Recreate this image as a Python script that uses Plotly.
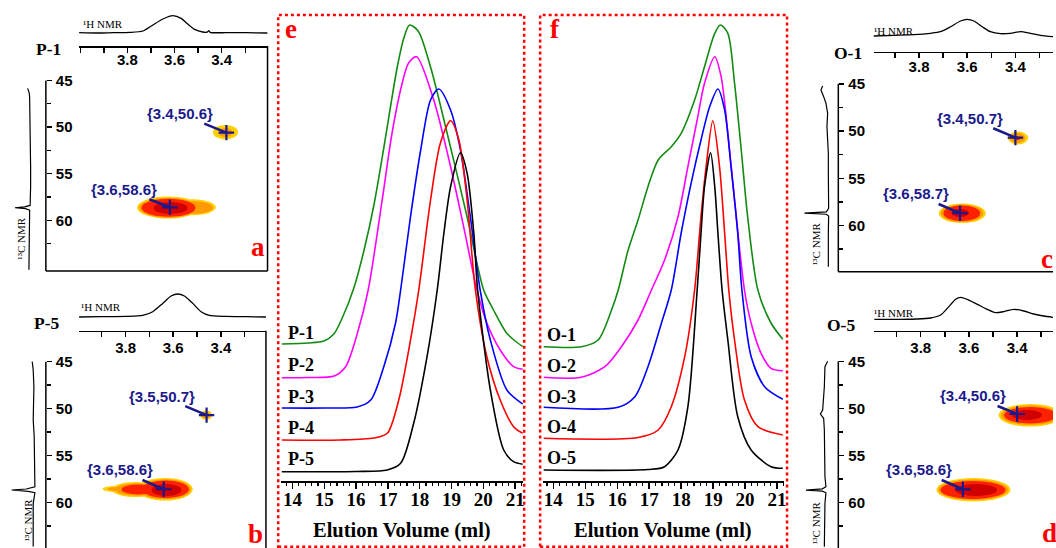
import plotly.graph_objects as go

W, H = 1056, 548
SERIF = "Liberation Serif"
SANS = "Liberation Sans"
NAVY = "#1a1a8c"
SPOT_COLORS = ["#FFD000", "#FF9A00", "#FF2200", "#D00000"]
GPC_COLORS = ["#138a13", "#ff00ff", "#0000ff", "#ff0000", "#000000"]

# ================= GPC data (elution volume, ml  /  detector signal, a.u.) =================
P_names = ["P-1", "P-2", "P-3", "P-4", "P-5"]
P1_vol = [13.66, 14.5, 14.99, 15.3, 15.55, 15.93, 16.25, 16.56, 16.87, 17.1, 17.3, 17.5, 17.68, 17.95, 18.34, 18.86, 19.49, 20.01, 20.32, 20.73, 21.0, 21.24]
P1_sig = [137, 138, 140, 147, 162, 193, 231, 276, 333, 378, 415, 443, 456, 450, 414, 348, 264, 191, 171, 148, 140, 134.3]
P2_vol = [13.66, 14.5, 15.31, 15.67, 16.04, 16.38, 16.82, 17.13, 17.45, 17.65, 17.9, 18.44, 18.97, 19.38, 19.8, 20.11, 20.53, 20.95, 21.24]
P2_sig = [103.3, 103.5, 105, 114.3, 147.7, 191, 281, 348, 398, 418, 424.3, 381, 314.3, 254.3, 191, 158, 131, 114.3, 111.7]
P3_vol = [13.66, 15.0, 16.03, 16.46, 16.87, 17.24, 17.4, 17.71, 18.03, 18.34, 18.6, 18.97, 19.28, 19.59, 19.9, 20.22, 20.74, 21.24]
P3_sig = [73, 73, 74, 81, 114.3, 158, 191, 264.3, 331, 381, 392, 371, 331, 264.3, 191, 141, 91, 77]
P4_vol = [13.66, 15.5, 16.56, 16.98, 17.34, 17.71, 17.97, 18.34, 18.65, 18.97, 19.23, 19.49, 19.75, 20.11, 20.53, 20.95, 21.24]
P4_sig = [41, 41, 43, 47.7, 81, 141, 191, 281, 338, 360.3, 341, 281, 191, 124.3, 81, 54.3, 47.7]
P5_vol = [13.66, 16.0, 16.98, 17.4, 17.81, 18.23, 18.55, 18.76, 18.97, 19.28, 19.49, 19.7, 19.82, 20.22, 20.64, 20.95, 21.24]
P5_sig = [9.3, 9.5, 11, 17.7, 57.7, 124.3, 191, 248, 294.3, 328.3, 307.7, 248, 191, 91, 31, 19.3, 16.7]
P_label_vol = 13.79
P_label_sig = [147.7, 116, 84.3, 52.7, 21.7]

O_names = ["O-1", "O-2", "O-3", "O-4", "O-5"]
O1_vol = [13.69, 14.88, 15.4, 15.82, 16.03, 16.34, 16.65, 16.96, 17.28, 17.69, 18.0, 18.42, 18.73, 19.05, 19.23, 19.46, 19.67, 19.88, 20.08, 20.4, 20.81, 21.18]
O1_sig = [134.3, 134.3, 141, 171, 191, 231, 261, 294.3, 321, 334.3, 347.7, 381, 414.3, 447.7, 456, 447.7, 397.7, 331, 264.3, 191, 158, 141.7]
O2_vol = [13.69, 14.87, 15.61, 16.13, 16.65, 17.07, 17.48, 17.9, 18.21, 18.52, 18.73, 19.05, 19.25, 19.46, 19.67, 19.98, 20.19, 20.5, 20.81, 21.18]
O2_sig = [103.7, 103.7, 114.3, 134.3, 161, 191, 221, 264.3, 314.3, 364.3, 397.7, 424.3, 404.3, 347.7, 281, 191, 157.7, 127.7, 112.7, 110.3]
O3_vol = [13.69, 16.03, 16.55, 16.96, 17.38, 17.69, 18.0, 18.31, 18.62, 18.89, 19.15, 19.36, 19.56, 19.77, 19.9, 20.19, 20.61, 21.18]
O3_sig = [73.7, 73.7, 84.3, 114.3, 157.7, 191, 248, 297.7, 341, 374.3, 392, 371, 314.3, 247.7, 191, 124.3, 94.3, 81.7]
O4_vol = [13.69, 16.65, 17.28, 17.69, 18.11, 18.42, 18.62, 18.78, 18.99, 19.2, 19.36, 19.49, 19.67, 19.98, 20.4, 21.18]
O4_sig = [42.7, 43.5, 51, 74.3, 124.3, 191, 264.3, 314.3, 360.3, 314.3, 247.7, 191, 141, 81, 54.3, 46]
O5_vol = [13.69, 16.96, 17.48, 17.9, 18.21, 18.5, 18.62, 18.73, 18.92, 19.05, 19.15, 19.28, 19.46, 19.77, 20.19, 20.81, 21.18]
O5_sig = [11, 11.5, 14.3, 31, 74.3, 191, 247.7, 294.3, 328.3, 294.3, 247.7, 191, 141, 64.3, 31, 14.3, 12.7]
O_label_vol = 13.74
O_label_sig = [146, 115, 84.3, 54.3, 22.7]

GPC_ticks = [14, 15, 16, 17, 18, 19, 20, 21]
GPC_title = "Elution Volume (ml)"

# ================= 2D NMR data =================
H_ticks = [3.8, 3.6, 3.4]
C_ticks = [45, 50, 55, 60]
C_minor = [47.5, 52.5, 57.5, 62.5]

# panel a (P-1)
a_h1_ppm = [4.005, 3.931, 3.861, 3.790, 3.734, 3.692, 3.649, 3.607, 3.572, 3.544, 3.515, 3.480, 3.462, 3.455, 3.449, 3.381, 3.297, 3.205]
a_h1_int = [0, -0.3, 0, 0.3, 1.7, 7.7, 13.7, 17, 14.3, 8.7, 3.3, 0.7, 0.6, 2.0, 0.4, 0, 0, -0.3]
a_c13_ppm = [45.85, 46.3, 46.75, 48.2, 49.5, 50.7, 52.5, 54.3, 56.4, 57.8, 58.4, 58.55, 58.65, 58.75, 58.9, 59.1, 61.4, 65.3]
a_c13_int = [3.0, 1.5, 1.0, 0.7, 0.3, 0.0, -0.3, 0.0, 0.0, 0.0, 0.5, 6, 15.7, 5, 1.0, 1.0, 1.3, 1.7]
a_peak_H = [3.38, 3.62]
a_peak_C = [50.6, 58.6]
a_peak_txt = ["{3.4,50.6}", "{3.6,58.6}"]
# contour levels: level index, H from, H to, C from, C to
a_spot_lvl = [0, 0, 1, 1, 2, 3, 0, 1]
a_spot_H0 = [3.759, 3.620, 3.750, 3.600, 3.740, 3.689, 3.437, 3.414]
a_spot_H1 = [3.494, 3.425, 3.503, 3.437, 3.511, 3.545, 3.331, 3.355]
a_spot_C0 = [57.44, 57.75, 57.58, 57.95, 57.69, 58.03, 49.78, 50.10]
a_spot_C1 = [59.80, 59.45, 59.71, 59.30, 59.62, 59.32, 51.33, 51.07]

# panel b (P-5)
b_h1_ppm = [3.995, 3.909, 3.797, 3.728, 3.686, 3.644, 3.609, 3.581, 3.553, 3.518, 3.483, 3.449, 3.379, 3.295, 3.211]
b_h1_int = [-0.3, 0, 0.3, 1.3, 5, 13.3, 20.7, 22.7, 20.7, 13.3, 5, 1.3, 0.3, 0, -0.3]
b_c13_ppm = [45.0, 45.88, 47.67, 49.43, 51.22, 53.0, 55.13, 57.26, 58.33, 58.57, 58.68, 58.82, 58.96, 60.1, 64.7]
b_c13_int = [2, 1, 0.3, 1, 1, 0, 0, 0, -0.7, 8, 22.6, 6, -0.7, 1, 1]
b_peak_H = [3.46, 3.64]
b_peak_C = [50.7, 58.6]
b_peak_txt = ["{3.5,50.7}", "{3.6,58.6}"]
b_spot_lvl = [0, 0, 0, 1, 1, 1, 2, 2, 3, 0, 1]
b_spot_H0 = [3.750, 3.859, 3.896, 3.739, 3.842, 3.875, 3.729, 3.817, 3.691, 3.487, 3.478]
b_spot_H1 = [3.518, 3.658, 3.783, 3.526, 3.666, 3.783, 3.534, 3.674, 3.566, 3.437, 3.445]
b_spot_C0 = [57.40, 57.83, 58.25, 57.54, 57.96, 58.36, 57.67, 58.09, 58.04, 50.20, 50.34]
b_spot_C1 = [59.80, 59.42, 58.89, 59.67, 59.29, 58.78, 59.53, 59.16, 59.32, 51.20, 51.06]

# panel c (O-1)
c_h1_ppm = [3.989, 3.904, 3.821, 3.752, 3.711, 3.669, 3.628, 3.600, 3.572, 3.538, 3.504, 3.462, 3.421, 3.379, 3.338, 3.296, 3.244]
c_h1_int = [0, 0.7, 1.3, 2.7, 4.3, 9.3, 15, 16.7, 15, 9.3, 4.3, 2.3, 2.7, 4.3, 2.7, 0.7, -0.7]
c_c13_ppm = [45.23, 45.66, 46.36, 47.06, 48.12, 49.53, 50.95, 52.35, 54.47, 56.59, 58.17, 58.55, 58.68, 58.8, 58.99, 60.82, 64.35]
c_c13_int = [5.7, 7.4, 4.7, 2.4, 0.7, 1.4, 0.7, 0, 0, 0, -0.3, 2, 24, 2, -0.3, 0, 0]
c_peak_H = [3.40, 3.63]
c_peak_C = [50.7, 58.7]
c_peak_txt = ["{3.4,50.7}", "{3.6,58.7}"]
c_spot_lvl = [0, 1, 2, 3, 0, 1, 2]
c_spot_H0 = [3.718, 3.710, 3.699, 3.666, 3.432, 3.422, 3.405]
c_spot_H1 = [3.523, 3.534, 3.546, 3.592, 3.347, 3.360, 3.380]
c_spot_C0 = [57.67, 57.77, 57.88, 58.25, 50.05, 50.21, 50.55]
c_spot_C1 = [59.73, 59.62, 59.52, 59.10, 51.42, 51.26, 50.95]

# panel d (O-5)
d_h1_ppm = [3.993, 3.896, 3.814, 3.759, 3.717, 3.683, 3.655, 3.635, 3.607, 3.565, 3.524, 3.490, 3.455, 3.414, 3.372, 3.331, 3.290, 3.251]
d_h1_int = [0, 0, 0.3, 1.3, 4.3, 12.7, 20, 22, 20, 15, 10, 6.7, 7.7, 10, 8.3, 5.3, 3.3, 2]
d_c13_ppm = [45.0, 45.57, 47.7, 49.46, 50.18, 50.6, 51.06, 52.3, 54.78, 57.27, 58.33, 58.55, 58.68, 58.8, 58.97, 60.09, 64.7]
d_c13_int = [-3.3, -0.6, 0, 0.7, 1.7, 4.0, 0.7, 0, 0, -0.6, -1.6, 2, 18.4, 2, -1.6, -0.6, 0]
d_peak_H = [3.40, 3.625]
d_peak_C = [50.6, 58.6]
d_peak_txt = ["{3.4,50.6}", "{3.6,58.6}"]
d_spot_lvl = [0, 1, 2, 3, 0, 1, 2, 3]
d_spot_H0 = [3.735, 3.727, 3.718, 3.656, 3.477, 3.466, 3.454, 3.421]
d_spot_H1 = [3.427, 3.437, 3.448, 3.483, 3.214, 3.226, 3.235, 3.297]
d_spot_C0 = [57.40, 57.56, 57.72, 58.04, 49.54, 49.70, 49.86, 50.18]
d_spot_C1 = [59.90, 59.74, 59.63, 59.31, 51.93, 51.77, 51.61, 51.24]

NMR_DATA = [
    dict(h1=(a_h1_ppm, a_h1_int), c13=(a_c13_ppm, a_c13_int), pk=(a_peak_H, a_peak_C, a_peak_txt),
         spots=(a_spot_lvl, a_spot_H0, a_spot_H1, a_spot_C0, a_spot_C1)),
    dict(h1=(b_h1_ppm, b_h1_int), c13=(b_c13_ppm, b_c13_int), pk=(b_peak_H, b_peak_C, b_peak_txt),
         spots=(b_spot_lvl, b_spot_H0, b_spot_H1, b_spot_C0, b_spot_C1)),
    dict(h1=(c_h1_ppm, c_h1_int), c13=(c_c13_ppm, c_c13_int), pk=(c_peak_H, c_peak_C, c_peak_txt),
         spots=(c_spot_lvl, c_spot_H0, c_spot_H1, c_spot_C0, c_spot_C1)),
    dict(h1=(d_h1_ppm, d_h1_int), c13=(d_c13_ppm, d_c13_int), pk=(d_peak_H, d_peak_C, d_peak_txt),
         spots=(d_spot_lvl, d_spot_H0, d_spot_H1, d_spot_C0, d_spot_C1)),
]

# ================= layout geometry (pixels) =================
# yt = pixel row of 45 ppm, sc = pixels per ppm (13C), yb = bottom pixel of panel
NMR_GEOM = [
    dict(xl=79.3, xr=268.3, xtop=46, Hr=[4.005, 3.2055], yl=46, yt=80.4, sc=9.33, yb=271, hstand=2,
         h1=(8, 40, 32.7), c13=(5, 35, 30.7), right=268.3, bottom=271, name="P-1", name_xy=(48.3, 49.3),
         h1lab=(103.3, 24), c13lab=(20.7, 239), letter="a", letter_xy=(258.3, 247), lanchor="center",
         offs=[(-46.7, -19), (-46, -18)]),
    dict(xl=79.3, xr=266.7, xtop=330.7, Hr=[3.995, 3.211], yl=46, yt=361.7, sc=9.38, yb=548, hstand=5,
         h1=(286, 325, 316.7), c13=(5, 40, 34.3), right=266.7, bottom=None, name="P-5", name_xy=(46.7, 323.3),
         h1lab=(101.7, 307.3), c13lab=(28.3, 520), letter="b", letter_xy=(256.7, 534), lanchor="center",
         offs=[(-45, -19), (-44, -19.3)]),
    dict(xl=876, xr=1056, xtop=51.7, Hr=[3.989, 3.244], yl=840.7, yt=83.8, sc=9.45, yb=271.7, hstand=3,
         h1=(10, 44, 36), c13=(800, 836, 830.7), right=None, bottom=271.7, name="O-1", name_xy=(850, 52.7),
         h1lab=(896.7, 30.7), c13lab=(818.3, 244), letter="c", letter_xy=(1041.7, 259), lanchor="left",
         offs=[(-45.7, -19.4), (-44.4, -19.3)]),
    dict(xl=876.7, xr=1056, xtop=330.7, Hr=[3.993, 3.251], yl=840.7, yt=361.3, sc=9.41, yb=548, hstand=5,
         h1=(290, 326, 319.3), c13=(800, 836, 826.7), right=None, bottom=None, name="O-5", name_xy=(843.3, 325),
         h1lab=(896.7, 313.3), c13lab=(818.3, 523), letter="d", letter_xy=(1043, 533), lanchor="left",
         offs=[(-44, -18), (-44, -19.3)]),
]
C_PAD = 1.3  # ppm of headroom above 45 so that the "45" label is not hidden


def fx(p):
    return p / W


def fy(p):
    return 1 - p / H


def axkey(kind, n):
    return f"{kind}axis{'' if n == 1 else n}"


def ref(kind, n):
    return f"{kind}{'' if n == 1 else n}"


layout = dict(width=W, height=H, margin=dict(l=0, r=0, t=0, b=0), paper_bgcolor="white",
              plot_bgcolor="rgba(0,0,0,0)", showlegend=False)
traces, shapes, annotations = [], [], []

HIDDEN = dict(visible=False, showgrid=False, zeroline=False, fixedrange=True)


def text_ann(x, y, text, font, xanchor="center", yanchor="middle", **kw):
    d = dict(x=fx(x), y=fy(y), xref="paper", yref="paper", text=text, showarrow=False,
             xanchor=xanchor, yanchor=yanchor, font=font)
    d.update(kw)
    annotations.append(d)


def add_nmr(k, g, d):
    m, h, c = 3 * k + 1, 3 * k + 2, 3 * k + 3
    xdom = [fx(g["xl"]), min(1.0, fx(g["xr"]))]
    c_top = 45 - C_PAD
    c_bot = 45 + (g["yb"] - g["yt"]) / g["sc"]
    ydom = [max(0.0, fy(g["yb"])), fy(g["yt"] - C_PAD * g["sc"])]
    tickfont = dict(family=SANS, size=15, color="black", weight="bold")
    layout[axkey("x", m)] = dict(
        domain=xdom, range=g["Hr"], anchor="free", position=fy(g["xtop"]), side="top",
        showline=True, linecolor="black", linewidth=1.5, ticks="inside", ticklen=5, tickwidth=1.5,
        tickcolor="black", tickvals=H_ticks, ticktext=[f"{v:.1f}" for v in H_ticks],
        ticklabelposition="inside", tickfont=tickfont, ticklabelstandoff=g["hstand"],
        minor=dict(dtick=0.1, tick0=3.4, ticks="inside", ticklen=5, tickwidth=1.5, tickcolor="black"),
        showgrid=False, zeroline=False, fixedrange=True)
    layout[axkey("y", m)] = dict(
        domain=ydom, range=[c_bot, c_top], anchor="free", position=fx(g["yl"]), side="left",
        showline=False, ticks="inside", ticklen=5, tickwidth=1.5,
        tickcolor="black", tickvals=C_ticks, ticktext=[str(v) for v in C_ticks],
        ticklabelposition="inside", tickfont=tickfont, ticklabelstandoff=4,
        minor=dict(tickvals=C_minor, ticks="inside", ticklen=4, tickwidth=1.5, tickcolor="black"),
        showgrid=False, zeroline=False, fixedrange=True)
    # left axis line, starting at the 45 ppm tick
    shapes.append(dict(type="line", xref="paper", yref="paper", x0=fx(g["yl"]), x1=fx(g["yl"]),
                       y0=fy(g["yt"]), y1=max(0.0, fy(g["yb"])), line=dict(color="black", width=1.5)))
    # 1H projection
    top, bot, base = g["h1"]
    layout[axkey("x", h)] = dict(domain=xdom, range=g["Hr"], anchor=ref("y", h), **HIDDEN)
    layout[axkey("y", h)] = dict(domain=[fy(bot), fy(top)], range=[base - bot, base - top], anchor=ref("x", h), **HIDDEN)
    traces.append(go.Scatter(x=d["h1"][0], y=d["h1"][1], xaxis=ref("x", h), yaxis=ref("y", h), mode="lines",
                             line=dict(color="black", width=1.3, shape="spline", smoothing=0.7), hoverinfo="skip"))
    # 13C projection
    left, right, zero = g["c13"]
    layout[axkey("x", c)] = dict(domain=[fx(left), fx(right)], range=[zero - left, zero - right], anchor=ref("y", c), **HIDDEN)
    layout[axkey("y", c)] = dict(domain=ydom, range=[c_bot, c_top], anchor=ref("x", c), **HIDDEN)
    traces.append(go.Scatter(x=d["c13"][1], y=d["c13"][0], xaxis=ref("x", c), yaxis=ref("y", c), mode="lines",
                             line=dict(color="black", width=1.2), hoverinfo="skip", cliponaxis=False))
    # cross peaks (contour levels)
    lv, h0, h1, c0, c1 = d["spots"]
    for i in range(len(lv)):
        shapes.append(dict(type="circle", xref=ref("x", m), yref=ref("y", m), x0=h0[i], x1=h1[i], y0=c0[i], y1=c1[i],
                           fillcolor=SPOT_COLORS[lv[i]], line=dict(width=0), layer="below"))
    pH, pC, ptxt = d["pk"]
    traces.append(go.Scatter(x=pH, y=pC, xaxis=ref("x", m), yaxis=ref("y", m), mode="markers",
                             marker=dict(symbol="cross-thin", size=11, line=dict(color=NAVY, width=2.2)),
                             hoverinfo="skip"))
    for i in range(len(pH)):
        ax, ay = g["offs"][i]
        annotations.append(dict(x=pH[i], y=pC[i], xref=ref("x", m), yref=ref("y", m), text=ptxt[i],
                                showarrow=True, arrowhead=0, arrowwidth=2.6, arrowcolor=NAVY, ax=ax, ay=ay,
                                standoff=0, xanchor="center", yanchor="middle",
                                font=dict(family=SANS, size=15, color=NAVY, weight="bold")))
    # frame
    if g["right"] is not None:
        shapes.append(dict(type="line", xref="paper", yref="paper", x0=fx(g["right"]), x1=fx(g["right"]),
                           y0=fy(g["xtop"]), y1=max(0, fy(g["yb"])), line=dict(color="black", width=1.5)))
    if g["bottom"] is not None:
        shapes.append(dict(type="line", xref="paper", yref="paper", x0=fx(g["yl"]),
                           x1=fx(g["right"]) if g["right"] else 1.0,
                           y0=fy(g["bottom"]), y1=fy(g["bottom"]), line=dict(color="black", width=1.5)))
    # texts
    text_ann(*g["name_xy"], g["name"], dict(family=SERIF, size=17.5, color="black", weight="bold"))
    text_ann(*g["h1lab"], "¹H NMR", dict(family=SERIF, size=11, color="black"))
    text_ann(*g["c13lab"], "¹³C NMR", dict(family=SERIF, size=11, color="black"), textangle=-90)
    text_ann(*g["letter_xy"], g["letter"], dict(family=SERIF, size=27, color="#ff0000", weight="bold"),
             xanchor=g["lanchor"])


for k in range(4):
    add_nmr(k, NMR_GEOM[k], NMR_DATA[k])

# ================= GPC panels =================
GPC_GEOM = [
    dict(n=13, xl=282.3, xr=524.3, xr_range=[13.655, 21.24], box=(279, 525.7), letter="e", letter_xy=(292, 29),
         title_x=403.3, names=P_names, vols=[P1_vol, P2_vol, P3_vol, P4_vol, P5_vol],
         sigs=[P1_sig, P2_sig, P3_sig, P4_sig, P5_sig], lab_v=P_label_vol, lab_s=P_label_sig),
    dict(n=14, xl=545, xr=786, xr_range=[13.69, 21.21], box=(541.7, 789.3), letter="f", letter_xy=(556.7, 29),
         title_x=665, names=O_names, vols=[O1_vol, O2_vol, O3_vol, O4_vol, O5_vol],
         sigs=[O1_sig, O2_sig, O3_sig, O4_sig, O5_sig], lab_v=O_label_vol, lab_s=O_label_sig),
]
AX_Y, TOP_Y = 481, 15
for g in GPC_GEOM:
    n = g["n"]
    layout[axkey("x", n)] = dict(
        domain=[fx(g["xl"]), fx(g["xr"])], range=g["xr_range"], anchor=ref("y", n),
        showline=True, linecolor="black", linewidth=1.5, ticks="outside", ticklen=6, tickwidth=1.5,
        tickcolor="black", tickvals=GPC_ticks, ticktext=[str(v) for v in GPC_ticks],
        tickfont=dict(family=SERIF, size=19, color="black", weight="bold"), ticklabelstandoff=-5,
        minor=dict(dtick=0.2, tick0=14, ticks="outside", ticklen=3.5, tickwidth=1.2, tickcolor="black"),
        showgrid=False, zeroline=False, fixedrange=True)
    layout[axkey("y", n)] = dict(domain=[fy(AX_Y), fy(TOP_Y)], range=[0, AX_Y - TOP_Y], anchor=ref("x", n), **HIDDEN)
    for i in range(5):
        traces.append(go.Scatter(x=g["vols"][i], y=g["sigs"][i], xaxis=ref("x", n), yaxis=ref("y", n), mode="lines",
                                 line=dict(color=GPC_COLORS[i], width=1.6, shape="spline", smoothing=0.8),
                                 hoverinfo="skip"))
        annotations.append(dict(x=g["lab_v"], y=g["lab_s"][i], xref=ref("x", n), yref=ref("y", n),
                                text=g["names"][i], showarrow=False, xanchor="left", yanchor="middle",
                                font=dict(family=SERIF, size=18, color="black", weight="bold")))
    text_ann(g["title_x"], 530.7, GPC_title, dict(family=SERIF, size=20.5, color="black", weight="bold"))
    text_ann(*g["letter_xy"], g["letter"], dict(family=SERIF, size=27, color="#ff0000", weight="bold"))
    shapes.append(dict(type="rect", xref="paper", yref="paper", x0=fx(g["box"][0]), x1=fx(g["box"][1]),
                       y0=fy(546.7), y1=fy(15), line=dict(color="#ff0000", width=2.5, dash="dot"),
                       fillcolor="rgba(0,0,0,0)", layer="above"))

layout["shapes"] = shapes
layout["annotations"] = annotations
fig = go.Figure(data=traces, layout=layout)
fig.write_html("out.html", config={"displayModeBar": False, "staticPlot": True},
               post_script="document.body.style.margin='0px'; document.body.style.overflow='hidden';")
